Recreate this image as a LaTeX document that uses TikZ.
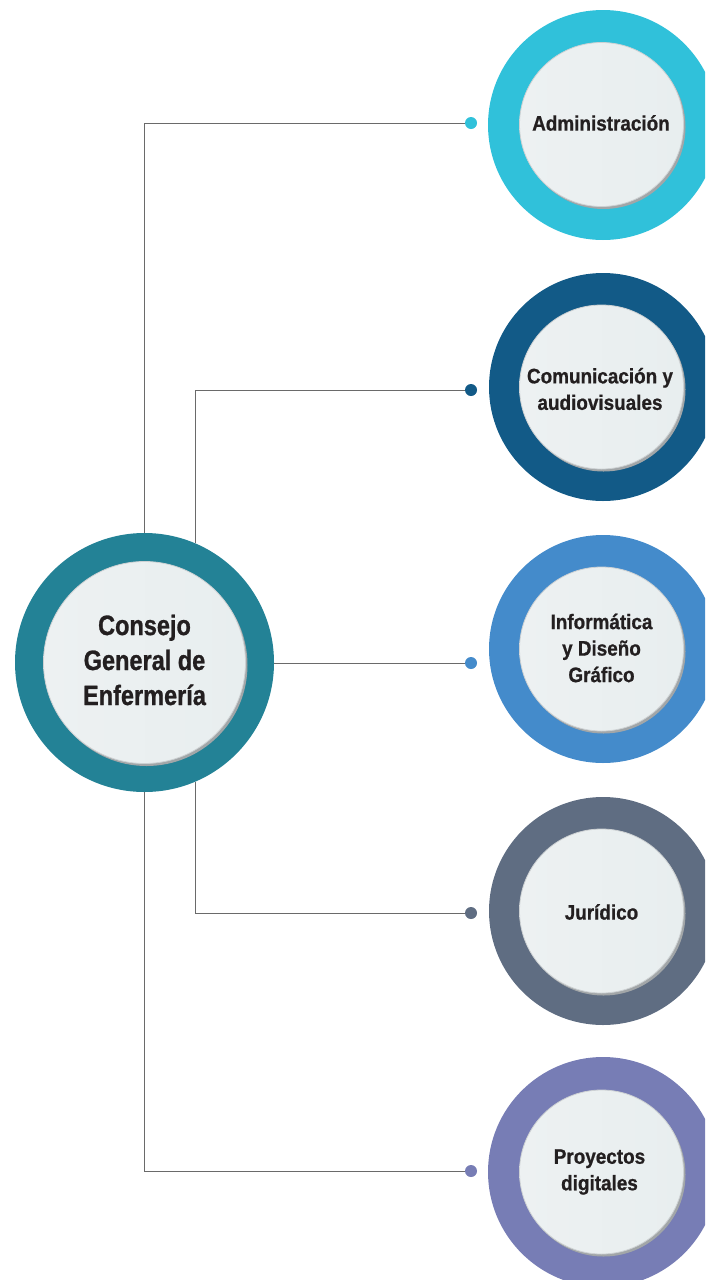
\documentclass[tikz,border=0pt]{standalone}
\usepackage{fontspec}
\newfontfamily\mainlblfont{Liberation Sans Bold}[FakeStretch=0.84,FakeBold=0.9]
\newfontfamily\lblfont{Liberation Sans Bold}[FakeStretch=0.9,FakeBold=0.8]
\definecolor{cMain}{HTML}{238296}
\definecolor{cA}{HTML}{30C1DA}
\definecolor{cB}{HTML}{125A87}
\definecolor{cC}{HTML}{448BCB}
\definecolor{cD}{HTML}{5F6D82}
\definecolor{cE}{HTML}{777DB5}
\definecolor{cInner}{HTML}{E8EEEF}
\definecolor{cInnerL}{HTML}{EDF1F2}
\definecolor{cRim}{HTML}{CDD1D3}
\definecolor{cShadow}{HTML}{A2A6A8}
\definecolor{cText}{HTML}{231F20}
\definecolor{cLine}{HTML}{6A6A6A}
\begin{document}
\begin{tikzpicture}[x=1pt,y=-1pt,
  ring/.style={circle,inner sep=0pt,draw=none,minimum size=#1},
  inner/.style={circle,inner sep=0pt,draw=cRim,line width=0.8pt,minimum size=#1,
    left color=cInnerL,right color=cInner},
  shadowc/.style={circle,inner sep=0pt,draw=none,minimum size=#1,fill=cShadow},
  lbl/.style={text=cText,align=center,font=\lblfont\fontsize{21}{26.5}\selectfont},
  mainlbl/.style={text=cText,align=center,font=\mainlblfont\fontsize{28}{35}\selectfont},
  conn/.style={draw=cLine,line width=0.9pt},
  dot/.style={circle,inner sep=0pt,minimum size=12pt,draw=none}]
\useasboundingbox (0,0) rectangle (705,1280);
\clip (0,0) rectangle (705,1280);
% main circle
\node[ring=259pt,fill=cMain] (main) at (144.5,662.5) {};
\node[shadowc=202pt] at (146.5,665) {};
\node[inner=202pt] (maini) at (144.5,662.5) {};
\node[mainlbl] (maint) at (144.5,660) {Consejo\\General de\\Enfermería};
% right circles
\node[ring=230pt,fill=cA] (ra) at (603,125) {};
\node[shadowc=164pt] at (603.5,127) {};
\node[inner=164pt] (ria) at (601.5,124.5) {};
\node[lbl] (ta) at (601,123) {Administración};
\node[ring=228pt,fill=cB] (rb) at (603,387) {};
\node[shadowc=164pt] at (603.5,389.5) {};
\node[inner=164pt] (rib) at (601.5,387) {};
\node[lbl] (tb) at (600,389) {Comunicación y\\audiovisuales};
\node[ring=228pt,fill=cC] (rc) at (603,649) {};
\node[shadowc=164pt] at (603.5,651.5) {};
\node[inner=164pt] (ric) at (601.5,649) {};
\node[lbl] (tc) at (601.5,648) {Informática\\y Diseño\\Gráfico};
\node[ring=228pt,fill=cD] (rd) at (603,911) {};
\node[shadowc=164pt] at (603.5,913.5) {};
\node[inner=164pt] (rid) at (601.5,911) {};
\node[lbl] (td) at (601.5,912) {Jurídico};
\node[ring=230pt,fill=cE] (re) at (603,1172) {};
\node[shadowc=164pt] at (603.5,1174.5) {};
\node[inner=164pt] (rie) at (601.5,1172) {};
\node[lbl] (te) at (599.5,1172) {Proyectos\\digitales};
% dot positions
\coordinate (da) at (471,123);
\coordinate (db) at (471,390);
\coordinate (dc) at (471,663);
\coordinate (dd) at (471,913);
\coordinate (de) at (471,1171);
% connectors
\draw[conn] (main.north) |- (da);
\draw[conn] (main.67.5) |- (db);
\draw[conn] (main.east |- dc) -- (dc);
\draw[conn] (main.-67.5) |- (dd);
\draw[conn] (main.south) |- (de);
% dots
\node[dot,fill=cA] (pa) at (da) {};
\node[dot,fill=cB] (pb) at (db) {};
\node[dot,fill=cC] (pc) at (dc) {};
\node[dot,fill=cD] (pd) at (dd) {};
\node[dot,fill=cE] (pe) at (de) {};
\end{tikzpicture}
\end{document}
